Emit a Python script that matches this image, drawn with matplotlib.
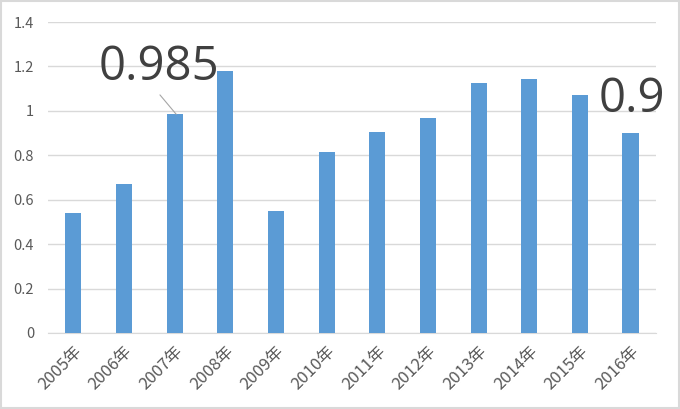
import matplotlib
matplotlib.use("Agg")
import matplotlib.pyplot as plt
from matplotlib.patches import Rectangle

plt.rcParams['font.family'] = ['Noto Sans CJK JP', 'DejaVu Sans']

years = ["2005年", "2006年", "2007年", "2008年", "2009年", "2010年",
         "2011年", "2012年", "2013年", "2014年", "2015年", "2016年"]
values = [0.54, 0.67, 0.985, 1.18, 0.55, 0.815, 0.905, 0.97, 1.125, 1.145, 1.07, 0.9]
yticks = [0, 0.2, 0.4, 0.6, 0.8, 1.0, 1.2, 1.4]
ytick_labels = ["0", "0.2", "0.4", "0.6", "0.8", "1", "1.2", "1.4"]

fig = plt.figure(figsize=(6.8, 4.09), dpi=100)
ax = fig.add_axes([0.0706, 0.186, 0.894, 0.76])
x = list(range(len(years)))
ax.bar(x, values, width=0.32, color="#5B9BD5", zorder=3)
ax.set_xlim(-0.5, len(years) - 0.5)
ax.set_ylim(0, 1.4)
ax.set_yticks(yticks)
ax.set_yticklabels(ytick_labels)
ax.set_xticks(x)
ax.set_xticklabels(years, rotation=45, ha="right", rotation_mode="anchor")
ax.grid(axis="y", color="#D9D9D9", linewidth=1, zorder=0)
for s in ["top", "right", "left"]:
    ax.spines[s].set_visible(False)
ax.spines["bottom"].set_color("#D9D9D9")
ax.tick_params(axis="both", length=0, colors="#595959")
ax.tick_params(axis="y", pad=10, labelsize=10.5)
ax.tick_params(axis="x", pad=7, labelsize=12)

fam = ["Open Sans", "DejaVu Sans"]
ax.text(1.69, 1.14, "0.985", ha="center", va="baseline", fontsize=34,
        color="#404040", family=fam)
ax.annotate("", xy=(2.03, values[2]), xytext=(1.71, 1.072),
            arrowprops=dict(arrowstyle="-", color="#A6A6A6", lw=0.8,
                            shrinkA=0, shrinkB=0))
ax.text(11.03, 0.995, "0.9", ha="center", va="baseline", fontsize=34,
        color="#404040", family=fam)

fig.patches.append(Rectangle((0.002, 0.003), 0.996, 0.994, transform=fig.transFigure,
                             fill=False, edgecolor="#D9D9D9", lw=1.5))
fig.savefig("out.png", dpi=100)
